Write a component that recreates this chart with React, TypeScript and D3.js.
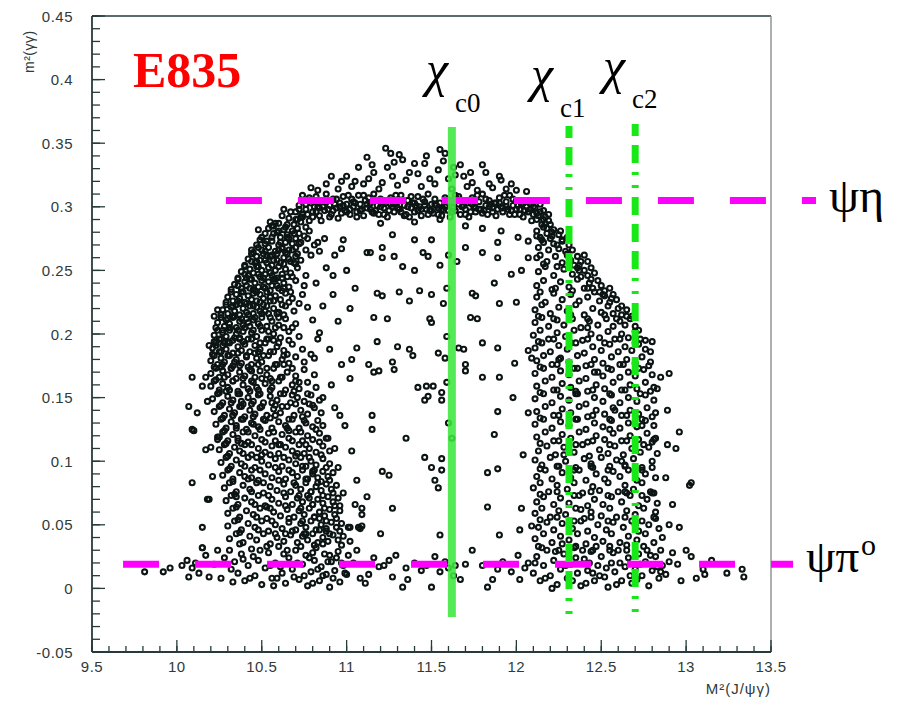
import React from 'react';
import * as d3 from 'd3';

// ---------- axis values ----------
const xMajorTicks = [9.5, 10, 10.5, 11, 11.5, 12, 12.5, 13, 13.5];
const yMajorTicks = [-0.05, 0, 0.05, 0.1, 0.15, 0.2, 0.25, 0.3, 0.35, 0.4, 0.45];
const xTitle = 'M²(J/ψγ)';
const yTitle = 'm²(γγ)';
const experiment = 'E835';

// ---------- reference lines ----------
const chiNames = ['c0', 'c1', 'c2'];
const chiX = [11.62, 12.31, 12.70];
const chiTop = [0.3627, 0.3636, 0.365];
const chiBottom = [-0.0225, -0.021, -0.021];
const chiDashed = [false, true, true];

const chanNames = ['ψη', 'ψπ'];
const chanY = [0.305, 0.019];
const chanX0 = [10.289, 9.683];
const chanX1 = [13.765, 13.63];

// ---------- scatter points (x = M²(J/ψγ), y = m²(γγ)), flat pairs ----------
const topBand = [
10.70,.296,10.72,.301,10.73,.292,10.75,.305,10.76,.298,10.78,.289,10.79,.303,10.80,.296,10.82,.308,10.83,.300,10.84,.293,10.86,.304,10.87,.297,10.88,.310,10.90,.301,10.91,.294,10.92,.306,10.94,.299,10.95,.291,10.96,.303,10.98,.308,10.99,.297,11.00,.302,11.02,.294,11.03,.306,11.04,.300,11.06,.296,11.07,.309,11.08,.302,11.10,.293,11.11,.305,11.12,.299,11.14,.303,11.15,.296,11.16,.310,11.18,.301,11.19,.294,11.20,.306,11.22,.299,11.23,.303,11.24,.292,11.26,.307,11.27,.300,11.28,.296,11.30,.304,11.31,.298,11.32,.309,11.34,.301,11.35,.294,11.36,.305,11.38,.299,11.39,.303,11.40,.296,11.42,.308,11.43,.300,11.44,.293,11.46,.304,11.47,.298,11.48,.310,11.50,.302,11.51,.295,11.52,.306,11.54,.299,11.55,.303,11.56,.293,11.58,.307,11.59,.301,11.60,.297,11.62,.304,11.63,.299,11.64,.309,11.66,.302,11.67,.294,11.68,.305,11.70,.298,11.71,.303,11.72,.292,11.74,.307,11.75,.300,11.76,.296,11.78,.304,11.79,.298,11.80,.310,11.82,.301,11.83,.294,11.84,.305,11.86,.299,11.87,.303,11.88,.293,11.90,.307,11.91,.300,11.92,.296,11.94,.304,11.95,.298,11.96,.309,11.98,.301,11.99,.294,12.00,.305,12.02,.298,12.03,.302,12.04,.292,12.06,.300,12.07,.296,12.08,.303,12.10,.294,12.11,.299,12.12,.290,12.14,.296,12.15,.286,12.17,.292,12.18,.283,12.19,.289,
10.71,.290,10.74,.309,10.77,.294,10.81,.300,10.85,.289,10.89,.298,10.93,.302,10.97,.295,11.01,.309,11.05,.303,11.09,.298,11.13,.307,11.17,.297,11.21,.302,11.25,.297,11.29,.309,11.33,.305,11.37,.292,11.41,.301,11.45,.306,11.49,.297,11.53,.301,11.57,.297,11.61,.292,11.65,.306,11.69,.301,11.73,.296,11.77,.309,11.81,.297,11.85,.302,11.89,.298,11.93,.309,11.97,.297,12.01,.301,12.05,.297,12.09,.289,12.13,.293,12.16,.297,12.20,.286,12.21,.280
];

const topExtra = [
10.72,.298,10.76,.302,10.80,.292,10.84,.299,10.88,.304,10.92,.297,10.96,.300,11.00,.296,11.04,.304,11.08,.297,11.12,.302,11.16,.295,11.20,.300,11.24,.305,11.28,.302,11.32,.296,11.36,.300,11.40,.303,11.44,.298,11.48,.294,11.52,.302,11.56,.298,11.60,.305,11.64,.297,11.68,.300,11.72,.305,11.76,.299,11.80,.295,11.84,.300,11.88,.303,11.92,.299,11.96,.294,12.00,.298,12.04,.303,12.08,.298,12.12,.295,12.16,.290,12.19,.294,
10.74,.294,10.78,.307,10.82,.296,10.86,.300,10.90,.292,10.94,.306,10.98,.301,11.02,.298,11.06,.292,11.10,.309,11.14,.298,11.18,.305,11.22,.294,11.26,.302,11.30,.299,11.34,.293,11.38,.308,11.42,.297,11.46,.301,11.50,.297,11.54,.294,11.58,.300,11.62,.296,11.66,.308,11.70,.294,11.74,.302,11.78,.298,11.82,.306,11.86,.296,11.90,.303,11.94,.300,11.98,.306,12.02,.294,12.06,.305,12.10,.300,12.14,.302
];

const aboveBand = [
10.79,.315,10.83,.313,10.88,.318,10.91,.324,10.95,.314,10.97,.320,11.00,.324,11.03,.316,11.07,.331,11.10,.318,11.13,.322,11.15,.333,11.16,.327,11.19,.314,11.21,.319,11.23,.346,11.24,.331,11.26,.342,11.27,.324,11.28,.335,11.30,.317,11.33,.337,11.35,.321,11.37,.327,11.40,.334,11.42,.326,11.44,.316,11.46,.334,11.47,.340,11.49,.322,11.52,.318,11.54,.329,11.57,.336,11.58,.342,11.60,.322,11.62,.314,11.64,.325,11.67,.333,11.69,.324,11.71,.316,11.73,.327,11.74,.319,11.77,.313,11.80,.333,11.82,.327,11.84,.318,11.86,.315,11.90,.324,11.91,.321,11.94,.314,11.97,.318,12.00,.313,12.06,.312,11.12,.339,11.55,.345,11.31,.341,11.05,.320,11.63,.331
];

const leftBand = [
10.60,.287,10.62,.293,10.64,.284,10.66,.291,10.67,.296,10.69,.286,10.71,.283,10.73,.288,10.76,.284,10.63,.298,
10.52,.279,10.54,.283,10.56,.276,10.57,.285,10.59,.280,10.61,.276,10.63,.282,10.65,.278,10.68,.281,10.70,.275,10.72,.279,10.75,.277,10.78,.281,10.55,.288,
10.47,.270,10.49,.274,10.50,.266,10.52,.271,10.54,.268,10.56,.273,10.58,.265,10.60,.270,10.62,.267,10.64,.272,10.66,.266,10.68,.271,10.70,.268,10.73,.272,10.76,.266,10.81,.270,
10.42,.259,10.44,.263,10.46,.256,10.47,.261,10.49,.258,10.51,.263,10.53,.256,10.55,.261,10.57,.258,10.59,.263,10.61,.256,10.63,.260,10.65,.263,10.67,.257,10.70,.261,10.73,.258,10.79,.262,
10.38,.249,10.40,.253,10.42,.246,10.43,.251,10.45,.248,10.47,.253,10.49,.245,10.50,.250,10.52,.247,10.54,.252,10.56,.246,10.58,.250,10.60,.253,10.62,.247,10.64,.251,10.67,.248,10.71,.252,10.76,.246,
10.34,.239,10.36,.243,10.38,.236,10.40,.241,10.41,.238,10.43,.243,10.45,.235,10.46,.240,10.48,.237,10.50,.242,10.52,.236,10.54,.241,10.56,.238,10.58,.243,10.60,.236,10.63,.240,10.66,.237,10.70,.242,10.75,.238,
10.30,.229,10.32,.233,10.33,.226,10.35,.231,10.37,.228,10.38,.233,10.40,.225,10.42,.230,10.44,.227,10.45,.232,10.47,.226,10.49,.231,10.51,.228,10.53,.233,10.55,.226,10.58,.230,10.61,.227,10.64,.232,10.68,.228,10.74,.231,
10.27,.219,10.29,.223,10.30,.216,10.32,.221,10.34,.218,10.35,.223,10.37,.215,10.39,.220,10.41,.217,10.43,.222,10.45,.216,10.47,.221,10.49,.218,10.51,.223,10.54,.216,10.57,.220,10.60,.217,10.64,.222,10.69,.218,10.77,.221,
10.24,.209,10.26,.213,10.28,.206,10.29,.211,10.31,.208,10.33,.213,10.35,.205,10.37,.210,10.39,.207,10.41,.212,10.43,.206,10.45,.211,10.48,.208,10.50,.213,10.53,.206,10.56,.210,10.60,.207,10.64,.212,10.70,.208,10.80,.211,
10.22,.199,10.24,.203,10.25,.196,10.27,.201,10.29,.198,10.31,.203,10.33,.195,10.35,.200,10.37,.197,10.39,.202,10.42,.196,10.44,.201,10.47,.198,10.50,.203,10.53,.196,10.57,.200,10.61,.197,10.66,.202,10.72,.198,10.84,.201,
10.21,.189,10.23,.193,10.25,.186,10.27,.191,10.29,.188,10.31,.193,10.33,.185,10.36,.190,10.38,.187,10.40,.192,10.43,.186,10.46,.191,10.49,.188,10.52,.193,10.55,.186,10.59,.190,10.63,.187,10.68,.192,10.74,.188,10.79,.184,
10.20,.179,10.22,.183,10.24,.176,10.26,.181,10.28,.178,10.30,.183,10.33,.175,10.35,.180,10.38,.177,10.41,.182,10.44,.176,10.47,.181,10.50,.178,10.54,.183,10.58,.176,10.62,.180,10.66,.177,10.70,.182,10.75,.178,10.81,.181,
10.20,.169,10.23,.173,10.25,.166,10.27,.171,10.30,.168,10.32,.173,10.35,.165,10.37,.170,10.40,.167,10.43,.172,10.46,.166,10.49,.171,10.53,.168,10.57,.173,10.61,.166,10.65,.170,10.70,.167,10.75,.172,10.81,.168,
10.20,.159,10.22,.163,10.25,.156,10.27,.161,10.30,.158,10.33,.163,10.36,.155,10.39,.160,10.42,.157,10.45,.162,10.48,.156,10.52,.161,10.56,.158,10.60,.163,10.64,.156,10.68,.160,10.72,.157,10.77,.162,10.82,.158,
10.21,.149,10.24,.153,10.27,.146,10.30,.151,10.33,.148,10.36,.153,10.39,.145,10.42,.150,10.45,.147,10.48,.152,10.51,.146,10.55,.151,10.59,.148,10.63,.153,10.67,.146,10.71,.150,10.75,.147,10.79,.152,10.84,.148,
10.22,.139,10.25,.143,10.28,.136,10.31,.141,10.34,.138,10.37,.143,10.40,.135,10.43,.140,10.46,.137,10.49,.142,10.53,.136,10.57,.141,10.61,.138,10.65,.143,10.69,.136,10.73,.140,10.77,.137,10.81,.142,10.85,.138,
10.23,.129,10.26,.133,10.29,.126,10.32,.131,10.35,.128,10.38,.133,10.41,.125,10.44,.130,10.48,.127,10.52,.132,10.56,.126,10.60,.131,10.64,.128,10.68,.133,10.72,.126,10.76,.130,10.80,.127,10.83,.132,10.86,.128,
10.24,.119,10.27,.123,10.30,.116,10.33,.121,10.36,.118,10.39,.123,10.42,.115,10.46,.120,10.50,.117,10.54,.122,10.58,.116,10.62,.121,10.66,.118,10.70,.123,10.74,.116,10.77,.120,10.80,.117,10.84,.122,10.88,.118,
10.25,.109,10.28,.113,10.31,.106,10.34,.111,10.37,.108,10.40,.113,10.44,.105,10.48,.110,10.52,.107,10.56,.112,10.60,.106,10.64,.111,10.68,.108,10.72,.113,10.75,.106,10.78,.110,10.82,.107,10.86,.112,10.90,.108,
10.26,.099,10.29,.103,10.32,.096,10.35,.101,10.38,.098,10.42,.103,10.46,.095,10.50,.100,10.54,.097,10.58,.102,10.62,.096,10.66,.101,10.70,.098,10.73,.103,10.76,.096,10.79,.100,10.82,.097,10.86,.102,10.90,.098,
10.27,.089,10.30,.093,10.33,.086,10.37,.091,10.40,.088,10.44,.093,10.48,.085,10.52,.090,10.56,.087,10.60,.092,10.64,.086,10.68,.091,10.71,.088,10.74,.093,10.77,.086,10.80,.090,10.83,.087,10.86,.092,10.89,.088,10.92,.091,
10.28,.079,10.31,.083,10.35,.076,10.39,.081,10.43,.078,10.47,.083,10.51,.075,10.55,.080,10.59,.077,10.63,.082,10.67,.076,10.70,.081,10.73,.078,10.76,.083,10.79,.076,10.82,.080,10.85,.077,10.88,.082,10.91,.078,10.94,.081,
10.29,.069,10.32,.073,10.36,.066,10.40,.071,10.44,.068,10.48,.073,10.52,.065,10.56,.070,10.60,.067,10.64,.072,10.68,.066,10.71,.071,10.74,.068,10.77,.073,10.80,.066,10.83,.070,10.86,.067,10.89,.072,10.92,.068,10.95,.071,
10.30,.059,10.33,.063,10.37,.056,10.41,.061,10.45,.058,10.49,.063,10.53,.055,10.57,.060,10.61,.057,10.65,.062,10.69,.056,10.72,.061,10.75,.058,10.78,.063,10.81,.056,10.84,.060,10.87,.057,10.90,.062,10.93,.058,10.96,.061,
10.30,.049,10.34,.053,10.38,.046,10.42,.051,10.46,.048,10.50,.053,10.54,.045,10.58,.050,10.62,.047,10.66,.052,10.70,.046,10.73,.051,10.76,.048,10.79,.053,10.82,.046,10.85,.050,10.88,.047,10.91,.052,10.94,.048,10.97,.051,
10.31,.039,10.35,.043,10.39,.036,10.43,.041,10.47,.038,10.51,.043,10.55,.035,10.59,.040,10.63,.037,10.67,.042,10.71,.036,10.74,.041,10.77,.038,10.80,.043,10.83,.036,10.86,.040,10.89,.037,10.92,.042,10.95,.038,10.98,.041
];

const leftCore = [
10.48,.282,10.58,.287,10.66,.275,10.44,.266,10.53,.262,10.62,.268,10.69,.256,10.41,.244,10.47,.257,10.57,.243,10.65,.245,10.36,.226,10.46,.234,10.55,.229,10.63,.236,10.72,.224,10.33,.214,10.42,.209,10.52,.218,10.60,.213,10.68,.205,10.28,.193,10.37,.196,10.48,.186,10.57,.195,10.65,.184,10.26,.174,10.34,.178,10.44,.171,10.55,.165,10.63,.176,10.72,.162,10.29,.155,10.38,.147,10.47,.158,10.58,.144,10.68,.152,10.78,.145,10.33,.136,10.45,.129,10.55,.134,10.66,.124,10.75,.132,10.38,.114,10.50,.105,10.61,.113,10.70,.104,10.80,.092,10.85,.084,10.78,.071,10.84,.055,10.75,.043,10.88,.045,10.81,.034,10.44,.087,10.53,.064,10.35,.072,10.64,.043
];

const leftExtra = [
10.56,.285,10.60,.281,10.65,.286,10.70,.290,10.74,.292,
10.50,.276,10.53,.273,10.57,.279,10.61,.272,10.65,.276,10.69,.279,10.72,.271,
10.45,.264,10.48,.268,10.52,.265,10.56,.262,10.60,.266,10.64,.264,10.68,.266,10.71,.263,
10.40,.254,10.44,.257,10.48,.253,10.52,.258,10.56,.254,10.59,.258,10.63,.255,10.66,.259,10.70,.255,
10.36,.244,10.40,.247,10.44,.243,10.48,.247,10.51,.244,10.55,.248,10.59,.244,10.62,.244,10.68,.245,
10.32,.235,10.36,.238,10.39,.233,10.43,.236,10.47,.233,10.51,.237,10.55,.234,10.59,.238,10.62,.234,10.67,.233,
10.29,.225,10.33,.222,10.37,.224,10.41,.224,10.45,.222,10.49,.225,10.53,.222,10.57,.226,10.62,.223,10.66,.225,
10.26,.215,10.30,.212,10.34,.214,10.38,.212,10.42,.215,10.46,.213,10.50,.216,10.55,.213,10.59,.216,10.63,.215,
10.23,.205,10.27,.203,10.31,.205,10.36,.203,10.40,.205,10.45,.203,10.49,.206,10.54,.202,10.58,.205,10.63,.205,
10.22,.194,10.26,.196,10.30,.194,10.34,.197,10.39,.194,10.44,.196,10.49,.193,10.54,.196,10.60,.193,10.66,.195,
10.21,.184,10.26,.186,10.31,.183,10.36,.185,10.41,.183,10.46,.185,10.51,.183,10.57,.186,10.63,.183,
10.22,.174,10.27,.176,10.32,.173,10.37,.175,10.42,.174,10.48,.176,10.53,.173,10.59,.176,10.68,.173,
10.23,.164,10.28,.166,10.33,.163,10.39,.165,10.44,.163,10.50,.165,10.56,.163,10.62,.166,10.70,.163,
10.25,.154,10.31,.156,10.37,.153,10.43,.155,10.49,.153,10.55,.156,10.61,.153,10.69,.155,10.77,.153,
10.26,.144,10.32,.146,10.38,.143,10.44,.145,10.50,.143,10.56,.146,10.62,.143,10.70,.145,10.80,.144,
10.27,.134,10.33,.136,10.39,.133,10.45,.135,10.51,.133,10.58,.136,10.66,.133,10.74,.135,
10.28,.124,10.35,.126,10.42,.123,10.49,.125,10.57,.123,10.65,.126,10.73,.123,10.82,.125,
10.29,.114,10.36,.116,10.44,.113,10.52,.115,10.60,.113,10.68,.116,10.76,.113,10.84,.115,
10.30,.104,10.39,.106,10.47,.103,10.55,.105,10.63,.103,10.71,.106,10.78,.103,10.85,.105,
10.31,.094,10.40,.096,10.49,.093,10.58,.095,10.66,.093,10.74,.096,10.81,.093,10.88,.095,
10.33,.084,10.42,.086,10.51,.083,10.60,.085,10.69,.083,10.76,.086,10.83,.083,10.90,.085,
10.34,.074,10.44,.076,10.54,.073,10.63,.075,10.72,.073,10.79,.076,10.86,.073,10.92,.075,
10.35,.064,10.46,.066,10.55,.063,10.64,.065,10.73,.063,10.80,.066,10.87,.063,10.93,.065,
10.36,.054,10.47,.056,10.56,.053,10.66,.055,10.74,.053,10.81,.056,10.88,.053,10.94,.055,
10.37,.044,10.48,.046,10.58,.043,10.68,.045,10.76,.043,10.84,.046,10.90,.043,10.96,.045
];

const leftInner = [
10.84,.265,10.88,.252,10.82,.240,10.92,.231,10.86,.222,10.95,.210,10.83,.196,10.90,.188,10.97,.176,11.02,.165,10.86,.150,10.93,.142,10.99,.128,10.89,.118,11.03,.108,10.95,.095,11.06,.085,10.98,.075,11.05,.066,11.09,.058,11.02,.048,10.96,.065,11.12,.072,10.91,.160,10.87,.275,10.93,.262,11.00,.250
];

const leftOutliers = [
10.09,.166,10.17,.166,10.15,.159,10.07,.143,10.18,.147,10.09,.125,10.10,.124,10.17,.109,10.20,.111,10.09,.083,10.21,.088,10.19,.191,10.23,.191,10.24,.219,10.22,.214,10.25,.119,10.24,.117,10.19,.070,10.15,.048,10.15,.032,10.18,.070,10.12,.138
];

const middle = [
10.77,.275,10.83,.272,10.98,.274,10.97,.267,11.14,.264,11.21,.268,11.27,.278,11.40,.274,11.50,.274,11.45,.264,11.48,.261,11.28,.261,11.21,.260,11.33,.253,11.40,.250,11.55,.254,11.60,.262,11.65,.257,11.70,.268,11.70,.285,11.80,.264,11.89,.260,11.89,.272,12.01,.276,12.07,.273,12.12,.277,12.07,.260,12.12,.260,12.03,.250,11.97,.247,10.92,.246,11.12,.264,11.20,.287,11.40,.288,11.55,.290,11.80,.283,11.91,.281,
11.05,.236,11.18,.232,11.21,.230,11.31,.233,11.43,.234,11.50,.231,11.59,.236,11.02,.220,11.16,.213,11.24,.212,11.49,.212,11.50,.209,11.37,.226,11.57,.224,11.74,.232,11.76,.230,11.87,.240,11.90,.224,12.00,.225,11.73,.213,11.77,.212,
11.06,.189,11.18,.194,11.30,.190,11.37,.188,11.39,.183,11.54,.185,11.58,.181,11.03,.180,11.13,.176,11.16,.170,11.19,.171,11.27,.178,11.28,.172,11.66,.189,11.69,.188,11.80,.193,11.89,.189,11.70,.176,11.70,.171,11.80,.166,11.90,.166,11.99,.177,12.07,.187,12.09,.181,11.59,.198,11.59,.162,
11.42,.158,11.47,.159,11.51,.159,11.48,.151,11.46,.148,11.56,.154,11.56,.148,10.96,.136,11.15,.136,11.15,.125,11.89,.139,12.07,.138,11.87,.121,10.93,.110,11.46,.103,11.50,.095,11.56,.093,11.56,.102,11.21,.092,11.25,.089,11.52,.085,11.54,.079,11.83,.091,11.89,.094,
11.09,.063,11.27,.063,11.83,.064,12.03,.063,11.01,.048,11.07,.048,11.09,.049,11.20,.043,11.55,.042,11.90,.042,12.02,.046,12.09,.049,10.97,.034,11.02,.037,11.08,.047,11.62,.118,11.60,.130,12.04,.105,11.98,.150,11.35,.118
];

const rightBand = [
12.12,.281,12.14,.276,12.16,.284,12.18,.279,12.20,.275,12.22,.282,12.25,.278,12.27,.274,
12.13,.268,12.16,.272,12.19,.266,12.22,.271,12.25,.267,12.27,.273,12.29,.265,12.31,.270,12.33,.266,
12.14,.262,12.18,.257,12.23,.261,12.27,.256,12.30,.263,12.32,.258,12.34,.254,12.36,.261,12.38,.257,12.40,.262,
12.13,.249,12.17,.253,12.22,.246,12.28,.251,12.33,.247,12.36,.252,12.38,.245,12.40,.250,12.42,.246,12.44,.252,12.46,.248,
12.12,.238,12.16,.242,12.21,.235,12.26,.241,12.31,.237,12.36,.243,12.40,.236,12.43,.240,12.45,.236,12.48,.242,12.50,.238,12.52,.234,
12.12,.229,12.17,.225,12.22,.232,12.27,.227,12.32,.231,12.37,.226,12.42,.229,12.46,.233,12.49,.226,12.52,.230,12.55,.225,12.57,.231,12.59,.227,
12.11,.219,12.15,.223,12.20,.216,12.25,.221,12.30,.218,12.35,.223,12.40,.215,12.45,.220,12.50,.217,12.54,.222,12.57,.216,12.60,.220,12.62,.215,12.65,.219,
12.11,.209,12.15,.213,12.19,.206,12.24,.211,12.28,.207,12.33,.212,12.38,.205,12.43,.210,12.48,.207,12.53,.212,12.57,.206,12.61,.210,12.64,.207,12.67,.212,12.70,.206,
12.10,.199,12.14,.203,12.19,.196,12.24,.201,12.29,.198,12.34,.203,12.39,.195,12.44,.200,12.49,.197,12.54,.202,12.58,.196,12.62,.200,12.66,.197,12.70,.202,12.73,.196,
12.11,.189,12.15,.193,12.20,.186,12.25,.191,12.30,.188,12.35,.193,12.40,.185,12.45,.190,12.50,.187,12.55,.192,12.60,.186,12.64,.190,12.68,.187,12.72,.192,12.76,.188,
12.12,.179,12.16,.183,12.21,.176,12.26,.181,12.31,.178,12.36,.183,12.41,.175,12.46,.180,12.51,.177,12.56,.182,12.61,.176,12.65,.180,12.70,.177,12.74,.182,12.79,.178,
12.11,.169,12.16,.173,12.21,.166,12.26,.171,12.31,.168,12.36,.173,12.41,.165,12.46,.170,12.51,.167,12.56,.172,12.61,.166,12.66,.170,12.70,.167,12.75,.172,12.80,.168,
12.12,.159,12.17,.163,12.22,.156,12.27,.161,12.32,.158,12.37,.163,12.42,.155,12.47,.160,12.52,.157,12.57,.162,12.62,.156,12.67,.160,12.71,.157,12.76,.162,12.81,.158,
12.11,.149,12.16,.153,12.21,.146,12.26,.151,12.31,.148,12.36,.153,12.41,.145,12.46,.150,12.51,.147,12.56,.152,12.61,.146,12.66,.150,12.71,.147,12.76,.152,12.81,.148,
12.12,.139,12.17,.143,12.22,.136,12.27,.141,12.32,.138,12.37,.143,12.42,.135,12.47,.140,12.52,.137,12.57,.142,12.62,.136,12.67,.140,12.72,.137,12.77,.142,12.82,.138,
12.11,.129,12.16,.133,12.21,.126,12.26,.131,12.31,.128,12.36,.133,12.41,.125,12.46,.130,12.51,.127,12.56,.132,12.61,.126,12.66,.130,12.71,.127,12.76,.132,12.81,.128,
12.12,.119,12.17,.123,12.22,.116,12.27,.121,12.32,.118,12.37,.123,12.42,.115,12.47,.120,12.52,.117,12.57,.122,12.62,.116,12.67,.120,12.72,.117,12.77,.122,12.82,.118,
12.13,.108,12.18,.112,12.23,.105,12.28,.111,12.34,.107,12.39,.113,12.43,.104,12.49,.109,12.54,.106,12.58,.112,12.63,.105,12.68,.110,12.73,.107,12.78,.111,12.83,.106,
12.11,.101,12.15,.097,12.20,.103,12.25,.096,12.29,.100,12.35,.095,12.40,.102,12.44,.098,12.50,.103,12.55,.096,12.59,.101,12.64,.097,12.69,.102,12.74,.095,12.80,.100,
12.12,.088,12.17,.093,12.21,.086,12.27,.091,12.32,.087,12.37,.093,12.41,.085,12.47,.090,12.52,.086,12.57,.092,12.61,.088,12.66,.093,12.71,.085,12.76,.090,12.82,.087,
12.10,.079,12.14,.083,12.19,.076,12.24,.081,12.30,.078,12.34,.083,12.39,.075,12.45,.080,12.49,.077,12.54,.083,12.60,.076,12.64,.081,12.69,.078,12.74,.083,12.79,.076,
12.12,.068,12.16,.072,12.22,.066,12.26,.071,12.31,.067,12.37,.073,12.42,.065,12.46,.070,12.51,.066,12.56,.072,12.62,.068,12.67,.073,12.72,.065,12.77,.070,12.83,.067,
12.11,.059,12.15,.063,12.20,.056,12.25,.061,12.29,.058,12.35,.063,12.40,.055,12.44,.060,12.50,.057,12.55,.063,12.59,.056,12.65,.061,12.70,.058,12.75,.063,12.81,.056,
12.13,.048,12.18,.052,12.22,.046,12.27,.051,12.33,.047,12.38,.053,12.42,.045,12.48,.050,12.53,.046,12.57,.052,12.63,.048,12.68,.053,12.72,.045,12.78,.050,12.84,.047,
12.11,.039,12.16,.043,12.21,.036,12.26,.041,12.31,.038,12.36,.043,12.41,.035,12.46,.040,12.51,.037,12.56,.043,12.61,.036,12.66,.041,12.71,.038,12.76,.043,12.81,.036,12.86,.040
];

const rightCore = [
12.17,.287,12.24,.270,12.30,.262,12.37,.250,12.44,.243,12.51,.231,12.56,.228,12.62,.222,12.68,.214,12.72,.203,12.76,.195,12.79,.186,12.35,.155,12.45,.095,12.55,.125,12.65,.075,12.70,.050,12.48,.170,12.58,.140,12.28,.105,12.38,.062,12.62,.100,12.74,.128,12.25,.180,12.42,.205
];

const rightExtra = [
12.15,.274,12.21,.277,12.26,.281,12.30,.276,
12.16,.255,12.24,.253,12.31,.256,12.37,.254,12.42,.257,
12.14,.233,12.23,.236,12.33,.234,12.42,.236,12.49,.233,12.55,.236,
12.13,.214,12.22,.212,12.32,.215,12.42,.212,12.52,.215,12.59,.212,12.65,.214,
12.13,.194,12.22,.196,12.32,.193,12.42,.196,12.52,.193,12.61,.196,12.70,.193,
12.14,.174,12.24,.176,12.34,.173,12.44,.176,12.54,.173,12.63,.176,12.72,.173,12.78,.175,
12.14,.154,12.24,.156,12.35,.153,12.45,.156,12.55,.153,12.64,.156,12.73,.153,12.79,.155,
12.14,.134,12.25,.136,12.35,.133,12.45,.136,12.55,.133,12.65,.136,12.74,.133,12.80,.135,
12.14,.114,12.25,.116,12.35,.113,12.45,.116,12.55,.113,12.65,.116,12.75,.113,12.80,.115,
12.14,.094,12.24,.096,12.34,.093,12.44,.096,12.54,.093,12.64,.096,12.74,.093,12.80,.095,
12.14,.074,12.24,.076,12.34,.073,12.44,.076,12.54,.073,12.64,.076,12.74,.073,12.81,.075,
12.14,.054,12.24,.056,12.34,.053,12.44,.056,12.54,.053,12.64,.056,12.74,.053,12.82,.055,
12.15,.032,12.25,.030,12.35,.033,12.45,.030,12.55,.033,12.65,.030,12.75,.033,12.85,.030
];

const rightOutliers = [
12.80,.194,12.85,.166,12.90,.169,12.83,.157,12.89,.140,12.96,.123,12.81,.117,12.89,.113,12.94,.110,12.88,.087,13.02,.081,12.92,.066,12.96,.048,12.80,.075,12.82,.060,13.03,.083,12.90,.050
];

const bottomBand = [
10.31,.030,10.34,.021,10.36,.012,10.38,.027,10.40,.006,10.42,.018,10.44,.031,10.46,.010,10.48,.022,10.50,.003,10.52,.016,10.54,.028,10.56,.008,10.58,.020,10.60,.033,10.62,.012,10.64,.004,10.66,.024,10.68,.015,10.70,.030,10.72,.007,10.74,.019,10.76,.026,10.77,.002,10.79,.013,10.81,.022,10.82,.032,10.84,.006,10.85,.017,10.87,.027,10.88,.011,10.90,.001,10.91,.021,10.93,.014,10.95,.029,10.96,.005,10.98,.018,10.33,.005,10.37,.035,10.45,.025,10.53,.033,10.57,.002,10.63,.027,10.69,.009,10.73,.033,10.78,.024,10.80,.004,10.83,.015,10.86,.035,10.89,.021,10.92,.008,10.94,.024,10.99,.012,11.01,.026,10.61,.017,
10.32,.015,10.39,.023,10.43,.008,10.49,.030,10.55,.018,10.59,.008,10.65,.030,10.71,.020,10.75,.010,10.80,.028,10.86,.010,10.90,.026,10.97,.020,
9.81,.013,9.92,.013,9.96,.016,10.06,.022,10.07,.009,10.09,.016,10.15,.032,10.19,.009,10.24,.030,10.11,.020,10.13,.012,10.22,.019,10.26,.008,10.28,.024,10.17,.026,10.03,.018,
11.00,.011,11.04,.020,11.08,.008,11.13,.011,11.16,.024,11.19,.017,11.22,.018,11.25,.022,11.27,.009,11.33,.001,11.35,.016,11.36,.007,11.40,.020,11.44,.014,11.47,.018,11.50,.001,11.55,.013,11.58,.021,11.60,.016,11.63,.010,11.64,.018,11.67,.007,11.70,.019,11.74,.030,11.80,.018,11.83,.001,11.86,.007,11.89,.015,11.92,.021,11.97,.013,12.02,.007,12.01,.026,12.05,.016,12.07,.020,11.06,.030,11.11,.004,11.29,.026,11.52,.025,
12.10,.012,12.12,.025,12.14,.006,12.16,.018,12.18,.030,12.20,.010,12.22,.022,12.24,.003,12.26,.015,12.28,.027,12.30,.008,12.32,.019,12.34,.032,12.36,.012,12.38,.002,12.40,.023,12.42,.014,12.44,.029,12.46,.006,12.48,.018,12.50,.025,12.52,.009,12.54,.001,12.56,.020,12.58,.013,12.60,.030,12.62,.006,12.64,.017,12.66,.024,12.68,.004,12.70,.015,12.72,.027,12.74,.010,12.76,.021,12.78,.002,12.80,.014,12.82,.025,12.84,.008,12.86,.018,12.88,.011,12.13,.033,12.21,.000,12.27,.035,12.35,.024,12.41,.004,12.47,.033,12.53,.016,12.59,.003,12.65,.034,12.71,.007,12.77,.030,12.83,.017,12.90,.021,12.45,.012,12.57,.028,
12.11,.020,12.17,.008,12.23,.029,12.29,.018,12.33,.006,12.39,.030,12.43,.020,12.49,.010,12.55,.030,12.61,.020,12.67,.010,12.73,.019,12.79,.026,12.85,.013,
12.92,.028,12.95,.019,13.00,.030,13.03,.025,13.10,.015,13.11,.011,13.24,.012,13.33,.015,13.34,.009,13.06,.008,13.15,.022,12.97,.006
];

const pointGroups = [topBand, topExtra, aboveBand, leftBand, leftCore, leftExtra, leftInner, leftOutliers, middle, rightBand, rightCore, rightExtra, rightOutliers, bottomBand];

function toPairs(flat: number[]): [number, number][] {
  const out: [number, number][] = [];
  for (let i = 0; i + 1 < flat.length; i += 2) out.push([flat[i], flat[i + 1]]);
  return out;
}

export default function App() {
  const x = d3.scaleLinear().domain([9.5, 13.5]).range([92, 771]);
  const y = d3.scaleLinear().domain([-0.05, 0.45]).range([652, 16]);
  const [x0, x1] = x.range();
  const [yB, yT] = y.range();

  const xMinor = d3.range(95, 135.0001, 1).map((v) => v / 10);
  const yMinor = d3.range(-5, 45.0001, 1).map((v) => v / 100);
  const points = pointGroups.flatMap(toPairs);

  const axisColor = '#263a3a';
  const labelColor = '#2f3a3a';
  const fmtY = (v: number) => (v < 0 ? '-' : '') + String(Math.abs(+v.toFixed(2)));
  const serif = 'Liberation Serif, Times New Roman, serif';
  const sans = 'Liberation Sans, Arial, sans-serif';

  const chiDash = '18,9,18,9,18,9,3,10,3,9';
  const chiPos = [[426, 86, 112], [531, 91, 117], [603, 83, 108]];

  return (
    <svg width={898} height={701} style={{ position: 'absolute', left: 0, top: 0, background: '#fff' }}>
      <rect x={0} y={0} width={898} height={701} fill="#fff" />
      {/* frame */}
      <line x1={x0} y1={yT} x2={x1} y2={yT} stroke={axisColor} strokeWidth={1.6} />
      <line x1={x1} y1={yT} x2={x1} y2={yB} stroke="#8a8f8f" strokeWidth={1.4} />
      <line x1={x0} y1={yT} x2={x0} y2={yB} stroke={axisColor} strokeWidth={1.8} />
      <line x1={x0} y1={yB} x2={x1} y2={yB} stroke={axisColor} strokeWidth={1.8} />
      {/* y ticks */}
      {yMinor.map((v, i) => (
        <line key={'ym' + i} x1={x0} x2={x0 + 8} y1={y(v)} y2={y(v)} stroke={axisColor} strokeWidth={1.3} />
      ))}
      {yMajorTicks.map((v, i) => (
        <g key={'yM' + i}>
          <line x1={x0} x2={x0 + 13} y1={y(v)} y2={y(v)} stroke={axisColor} strokeWidth={1.3} />
          <text x={73} y={y(v) + 5.5} textAnchor="end" fontFamily={sans} fontSize={15} fill={labelColor} letterSpacing={0.5}>
            {fmtY(v)}
          </text>
        </g>
      ))}
      {/* x ticks */}
      {xMinor.map((v, i) => (
        <line key={'xm' + i} x1={x(v)} x2={x(v)} y1={yB} y2={yB - 6} stroke={axisColor} strokeWidth={1.3} />
      ))}
      {xMajorTicks.map((v, i) => (
        <g key={'xM' + i}>
          <line x1={x(v)} x2={x(v)} y1={yB} y2={yB - 12} stroke={axisColor} strokeWidth={1.3} />
          <text x={x(v)} y={672} textAnchor="middle" fontFamily={sans} fontSize={15} fill={labelColor} letterSpacing={0.5}>
            {String(v)}
          </text>
        </g>
      ))}
      {/* axis titles */}
      <text transform="translate(34,73) rotate(-90)" fontFamily={sans} fontSize={14} fill={labelColor} letterSpacing={0.5}>
        {yTitle}
      </text>
      <text x={771} y={694} textAnchor="end" fontFamily={sans} fontSize={15} fill={labelColor} letterSpacing={1}>
        {xTitle}
      </text>

      {/* scatter */}
      <g fill="none" stroke="#0c1414" strokeWidth={2.1}>
        {points.map((p, i) => (
          <circle key={i} cx={x(p[0])} cy={y(p[1])} r={2.5} />
        ))}
      </g>

      {/* channel lines (magenta) */}
      {chanNames.map((n, i) => (
        <line key={'ch' + i} x1={x(chanX0[i])} x2={x(chanX1[i])} y1={y(chanY[i])} y2={y(chanY[i])}
          stroke="#ff00ff" strokeWidth={7} strokeDasharray="36,36" />
      ))}

      {/* chi_c lines (green) */}
      {chiNames.map((n, i) => (
        <line key={'chi' + i} x1={x(chiX[i])} x2={x(chiX[i])} y1={y(chiTop[i])} y2={y(chiBottom[i])}
          stroke={chiDashed[i] ? '#18e818' : '#3ee63e'} strokeOpacity={chiDashed[i] ? 1 : 0.88}
          strokeWidth={chiDashed[i] ? 7 : 8}
          strokeDasharray={chiDashed[i] ? chiDash : undefined} strokeDashoffset={chiDashed[i] ? 33 : undefined} />
      ))}

      {/* chi labels */}
      {chiNames.map((n, i) => {
        const pos = chiPos[i];
        return (
          <text key={'chl' + i} x={pos[0]} y={pos[1]} fontFamily={serif} fontSize={50} fontStyle="italic" fill="#000">
            χ
            <tspan x={pos[0] + 29} y={pos[2]} fontSize={27} fontStyle="normal">{n}</tspan>
          </text>
        );
      })}

      {/* channel labels */}
      <text x={829} y={212} fontFamily={serif} fontSize={48} fill="#000">{chanNames[0]}</text>
      <text x={806} y={572} fontFamily={serif} fontSize={47} fill="#000">
        {chanNames[1]}
        <tspan x={861} y={555} fontSize={30}>o</tspan>
      </text>

      {/* experiment label */}
      <text x={133} y={87} fontFamily={serif} fontWeight="bold" fontSize={50} fill="#ff0000">
        {experiment}
      </text>
    </svg>
  );
}
